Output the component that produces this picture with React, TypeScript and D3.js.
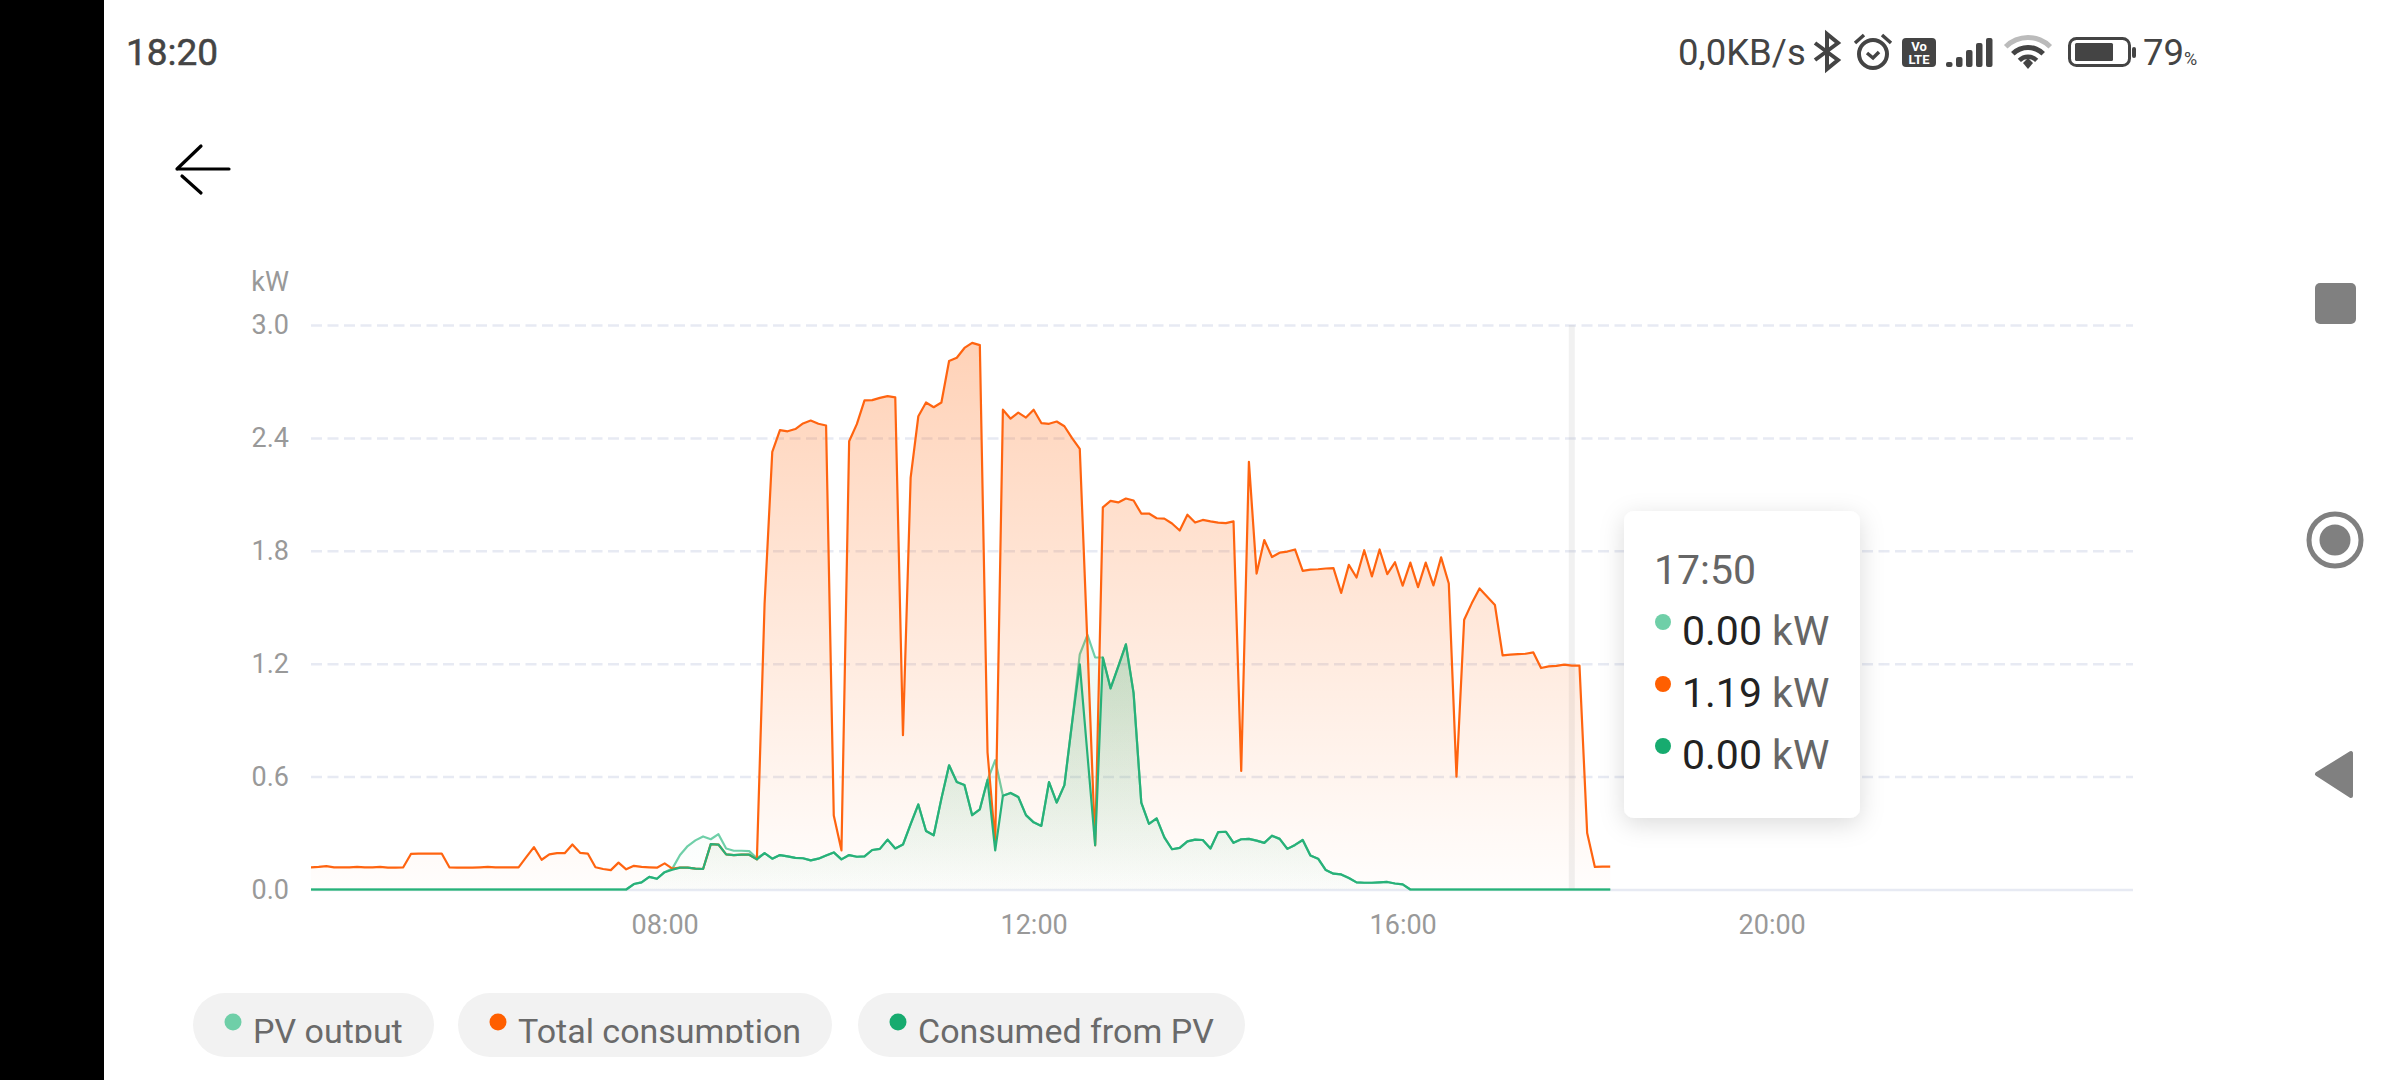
import { useEffect, useRef } from "react";
import * as d3 from "d3";

// one sample every 5 minutes, starting at 04:10
const startMinute = 250;
const stepMinutes = 5;

const totalConsumption = [
  0.118, 0.12, 0.124, 0.118, 0.118, 0.118, 0.12, 0.118, 0.118, 0.12, 0.116, 0.116, 0.118, 0.189, 0.191, 0.191, 0.191,
  0.191, 0.118, 0.116, 0.116, 0.116, 0.118, 0.12, 0.118, 0.118, 0.118, 0.118, 0.172, 0.225, 0.158, 0.187, 0.193, 0.193,
  0.239, 0.195, 0.191, 0.118, 0.109, 0.103, 0.143, 0.107, 0.126, 0.12, 0.118, 0.116, 0.139, 0.111, 0.116, 0.116, 0.111,
  0.109, 0.241, 0.239, 0.187, 0.183, 0.185, 0.185, 0.16, 1.517, 2.326, 2.441, 2.435, 2.447, 2.477, 2.492, 2.475, 2.466,
  0.393, 0.208, 2.382, 2.473, 2.599, 2.601, 2.613, 2.622, 2.615, 0.82, 2.189, 2.515, 2.588, 2.563, 2.588, 2.809, 2.826,
  2.878, 2.905, 2.893, 0.729, 0.25, 2.55, 2.502, 2.534, 2.508, 2.55, 2.479, 2.475, 2.487, 2.462, 2.399, 2.342, 1.3,
  0.235, 2.031, 2.065, 2.057, 2.078, 2.067, 1.998, 1.998, 1.973, 1.971, 1.945, 1.908, 1.992, 1.95, 1.964, 1.956, 1.95,
  1.947, 1.956, 0.63, 2.273, 1.679, 1.857, 1.767, 1.79, 1.796, 1.807, 1.693, 1.7, 1.702, 1.706, 1.708, 1.576, 1.725,
  1.658, 1.803, 1.664, 1.807, 1.676, 1.739, 1.615, 1.737, 1.607, 1.737, 1.616, 1.765, 1.626, 0.6, 1.434, 1.522, 1.6,
  1.556, 1.512, 1.244, 1.248, 1.251, 1.253, 1.26, 1.177, 1.186, 1.188, 1.195, 1.19, 1.19, 0.3, 0.12, 0.122, 0.122,
];

const consumedFromPv = [
  0, 0, 0, 0, 0, 0, 0, 0, 0, 0, 0, 0, 0, 0, 0, 0, 0, 0, 0, 0, 0, 0, 0, 0, 0, 0, 0, 0, 0, 0, 0, 0, 0, 0, 0, 0, 0, 0, 0, 0,
  0, 0, 0.029, 0.038, 0.067, 0.057, 0.092, 0.105, 0.116, 0.116, 0.111, 0.109, 0.241, 0.239, 0.187, 0.183, 0.185, 0.185,
  0.16, 0.193, 0.164, 0.183, 0.176, 0.168, 0.166, 0.155, 0.164, 0.181, 0.197, 0.16, 0.183, 0.174, 0.176, 0.21, 0.216,
  0.265, 0.218, 0.239, 0.347, 0.452, 0.311, 0.288, 0.483, 0.66, 0.571, 0.555, 0.395, 0.426, 0.582, 0.208, 0.498, 0.513,
  0.492, 0.395, 0.357, 0.338, 0.571, 0.462, 0.555, 0.887, 1.197, 0.716, 0.235, 1.233, 1.069, 1.185, 1.303, 1.044, 0.462,
  0.349, 0.378, 0.277, 0.214, 0.221, 0.256, 0.265, 0.263, 0.218, 0.305, 0.307, 0.248, 0.267, 0.269, 0.26, 0.248, 0.286,
  0.269, 0.216, 0.237, 0.263, 0.181, 0.164, 0.103, 0.084, 0.08, 0.061, 0.038, 0.036, 0.036, 0.038, 0.04, 0.032, 0.027,
  0, 0, 0, 0, 0, 0, 0, 0, 0, 0, 0, 0, 0, 0, 0, 0, 0, 0, 0, 0, 0, 0, 0, 0, 0, 0, 0,
];

const pvOutput = [
  0, 0, 0, 0, 0, 0, 0, 0, 0, 0, 0, 0, 0, 0, 0, 0, 0, 0, 0, 0, 0, 0, 0, 0, 0, 0, 0, 0, 0, 0, 0, 0, 0, 0, 0, 0, 0, 0, 0, 0,
  0, 0, 0.029, 0.038, 0.067, 0.057, 0.092, 0.111, 0.183, 0.231, 0.261, 0.282, 0.267, 0.294, 0.218, 0.206, 0.206, 0.204,
  0.166, 0.193, 0.164, 0.183, 0.176, 0.168, 0.166, 0.155, 0.164, 0.181, 0.197, 0.16, 0.183, 0.174, 0.176, 0.21, 0.216,
  0.265, 0.218, 0.239, 0.347, 0.452, 0.311, 0.288, 0.483, 0.66, 0.571, 0.555, 0.395, 0.426, 0.582, 0.687, 0.498, 0.513,
  0.492, 0.395, 0.357, 0.338, 0.571, 0.462, 0.555, 0.887, 1.25, 1.353, 1.233, 1.233, 1.069, 1.185, 1.303, 1.044, 0.462,
  0.349, 0.378, 0.277, 0.214, 0.221, 0.256, 0.265, 0.263, 0.218, 0.305, 0.307, 0.248, 0.267, 0.269, 0.26, 0.248, 0.286,
  0.269, 0.216, 0.237, 0.263, 0.181, 0.164, 0.103, 0.084, 0.08, 0.061, 0.038, 0.036, 0.036, 0.038, 0.04, 0.032, 0.027,
  0, 0, 0, 0, 0, 0, 0, 0, 0, 0, 0, 0, 0, 0, 0, 0, 0, 0, 0, 0, 0, 0, 0, 0, 0, 0, 0,
];

const yTicks = [0, 0.6, 1.2, 1.8, 2.4, 3.0];
const xTicks = [480, 720, 960, 1200];
const legendNames = ["PV output", "Total consumption", "Consumed from PV"];
const legendColors = ["#6fcfa8", "#ff5f00", "#17ab6f"];
const tooltipTime = "17:50";
const tooltipMinute = 1070;
const tooltipValues = ["0.00", "1.19", "0.00"];

const font = "Roboto, sans-serif";

const App = () => {
  const ref = useRef<SVGSVGElement | null>(null);

  useEffect(() => {
    if (!ref.current) return;
    document.body.style.margin = "0";

    const svg = d3.select(ref.current);
    svg.selectAll("*").remove();

    const x = d3.scaleLinear([startMinute, 1435], [311, 2133]);
    const y = d3.scaleLinear([0, 3], [889.5, 325]);
    const minuteOf = (i: number) => startMinute + i * stepMinutes;

    const defs = svg.append("defs");
    const series = [
      { values: pvOutput, color: legendColors[0], line: legendColors[0], id: "fillPv", top: 0.12 },
      { values: totalConsumption, color: legendColors[1], line: "#ff6410", id: "fillTotal", top: 0.28 },
      { values: consumedFromPv, color: legendColors[2], line: "#27b179", id: "fillConsumed", top: 0.2 },
    ];
    series.forEach((s) => {
      const grad = defs
        .append("linearGradient")
        .attr("id", s.id)
        .attr("gradientUnits", "userSpaceOnUse")
        .attr("x1", 0)
        .attr("x2", 0)
        .attr("y1", y(d3.max(s.values) as number))
        .attr("y2", y(0));
      grad.append("stop").attr("offset", 0).attr("stop-color", s.color).attr("stop-opacity", s.top);
      grad.append("stop").attr("offset", 1).attr("stop-color", s.color).attr("stop-opacity", 0.01);
    });
    defs
      .append("clipPath")
      .attr("id", "legendClip")
      .append("rect")
      .attr("x", 104)
      .attr("y", 985)
      .attr("width", 1300)
      .attr("height", 58);
    const shadow = defs
      .append("filter")
      .attr("id", "tipShadow")
      .attr("x", "-30%")
      .attr("y", "-30%")
      .attr("width", "160%")
      .attr("height", "160%");
    shadow
      .append("feDropShadow")
      .attr("dx", 0)
      .attr("dy", 6)
      .attr("stdDeviation", 12)
      .attr("flood-color", "#000")
      .attr("flood-opacity", 0.14);

    svg.append("rect").attr("width", 2400).attr("height", 1080).attr("fill", "#fff");
    svg.append("rect").attr("width", 104).attr("height", 1080).attr("fill", "#000");

    // y axis, its ticks stretched into the dashed grid
    const yAxis = svg
      .append("g")
      .attr("transform", "translate(311,0)")
      .call(
        d3
          .axisLeft(y)
          .tickValues(yTicks)
          .tickSize(-1822)
          .tickPadding(22)
          .tickFormat((d) => d3.format(".1f")(d as number))
      );
    yAxis.select(".domain").remove();
    yAxis
      .selectAll(".tick line")
      .attr("stroke", "#e7eaf3")
      .attr("stroke-width", 2.5)
      .attr("stroke-dasharray", (d) => (d === 0 ? null : "11 5.5"));
    yAxis.selectAll("text").attr("fill", "#999").attr("font-size", 27).attr("font-family", font);

    svg
      .append("text")
      .attr("x", 289)
      .attr("y", 291)
      .attr("text-anchor", "end")
      .attr("fill", "#999")
      .attr("font-size", 27)
      .attr("font-family", font)
      .text("kW");

    const xAxis = svg
      .append("g")
      .attr("transform", "translate(0,890)")
      .call(
        d3
          .axisBottom(x)
          .tickValues(xTicks)
          .tickSize(0)
          .tickPadding(25)
          .tickFormat((d) => d3.format("02d")(Math.floor((d as number) / 60)) + ":00")
      );
    xAxis.select(".domain").remove();
    xAxis.selectAll("text").attr("fill", "#999").attr("font-size", 27).attr("font-family", font);

    // hover band behind the lines
    svg
      .append("line")
      .attr("x1", x(tooltipMinute))
      .attr("x2", x(tooltipMinute))
      .attr("y1", y(3))
      .attr("y2", y(0))
      .attr("stroke", "#8c8c8c")
      .attr("stroke-opacity", 0.12)
      .attr("stroke-width", 6);

    const area = d3
      .area<number>()
      .x((_, i) => x(minuteOf(i)))
      .y0(y(0))
      .y1((d) => y(d));
    const line = d3
      .line<number>()
      .x((_, i) => x(minuteOf(i)))
      .y((d) => y(d));

    series.forEach((s) => {
      svg.append("path").attr("d", area(s.values)).attr("fill", `url(#${s.id})`);
      svg
        .append("path")
        .attr("d", line(s.values))
        .attr("fill", "none")
        .attr("stroke", s.line)
        .attr("stroke-width", 2.2)
        .attr("stroke-linejoin", "round");
    });

    // tooltip
    const tip = svg.append("g");
    tip
      .append("rect")
      .attr("x", 1624)
      .attr("y", 511)
      .attr("width", 236)
      .attr("height", 307)
      .attr("rx", 10)
      .attr("fill", "#fff")
      .attr("filter", "url(#tipShadow)");
    tip
      .append("text")
      .attr("x", 1654)
      .attr("y", 584)
      .attr("fill", "#666")
      .attr("font-size", 41)
      .attr("font-family", font)
      .text(tooltipTime);
    tooltipValues.forEach((v, i) => {
      const cy = 622 + i * 62;
      tip.append("circle").attr("cx", 1663).attr("cy", cy).attr("r", 8).attr("fill", legendColors[i]);
      const t = tip
        .append("text")
        .attr("x", 1682)
        .attr("y", cy + 23)
        .attr("font-size", 41)
        .attr("font-family", font);
      t.append("tspan").attr("fill", "#222").text(v);
      t.append("tspan").attr("fill", "#666").text(" kW");
    });

    // legend chips
    const chipX = [193, 458, 858];
    const chipW = [241, 374, 387];
    legendNames.forEach((name, i) => {
      svg
        .append("rect")
        .attr("x", chipX[i])
        .attr("y", 993)
        .attr("width", chipW[i])
        .attr("height", 64)
        .attr("rx", 32)
        .attr("fill", "#f2f2f2");
      svg
        .append("circle")
        .attr("cx", chipX[i] + 40)
        .attr("cy", 1022)
        .attr("r", 8.5)
        .attr("fill", legendColors[i]);
      svg
        .append("text")
        .attr("x", chipX[i] + 60)
        .attr("y", 1043)
        .attr("fill", "#6a6a6a")
        .attr("font-size", 34)
        .attr("font-family", font)
        .attr("clip-path", "url(#legendClip)")
        .text(name);
    });

    // status bar
    const dark = "#444";
    svg
      .append("text")
      .attr("x", 126)
      .attr("y", 65)
      .attr("fill", dark)
      .attr("font-size", 37)
      .attr("font-weight", 400)
      .attr("stroke", dark)
      .attr("stroke-width", 0.5)
      .attr("font-family", font)
      .text("18:20");
    svg
      .append("text")
      .attr("x", 1678)
      .attr("y", 65)
      .attr("fill", dark)
      .attr("font-size", 36.5)
      .attr("font-family", font)
      .text("0,0KB/s");
    svg
      .append("path")
      .attr("d", "M1815 43L1838 60L1827 69V34L1838 43L1815 60")
      .attr("fill", "none")
      .attr("stroke", dark)
      .attr("stroke-width", 4);
    svg
      .append("circle")
      .attr("cx", 1873)
      .attr("cy", 54)
      .attr("r", 14)
      .attr("fill", "none")
      .attr("stroke", dark)
      .attr("stroke-width", 4);
    svg
      .append("path")
      .attr("d", "M1867 53L1873 58L1879 52M1855 43L1864 35M1882 35L1891 43")
      .attr("fill", "none")
      .attr("stroke", dark)
      .attr("stroke-width", 3.5);
    svg.append("rect").attr("x", 1902).attr("y", 38).attr("width", 34).attr("height", 29).attr("rx", 4).attr("fill", dark);
    [
      ["Vo", 51],
      ["LTE", 64],
    ].forEach(([s, by]) => {
      svg
        .append("text")
        .attr("x", 1919)
        .attr("y", by as number)
        .attr("text-anchor", "middle")
        .attr("fill", "#fff")
        .attr("font-size", 13)
        .attr("font-weight", 700)
        .attr("font-family", font)
        .text(s as string);
    });
    [
      [1946, 62],
      [1956, 57],
      [1966, 50],
      [1976, 43],
      [1986, 38],
    ].forEach(([bx, by]) => {
      svg
        .append("rect")
        .attr("x", bx)
        .attr("y", by)
        .attr("width", 6.5)
        .attr("height", 67 - by)
        .attr("rx", 2)
        .attr("fill", dark);
    });
    const wifiArc = d3.arc();
    [
      [29, 34, "#bbb"],
      [19, 24, dark],
      [10, 14.5, dark],
    ].forEach(([r0, r1, c]) => {
      svg
        .append("path")
        .attr("transform", "translate(2028,69)")
        .attr(
          "d",
          wifiArc({
            innerRadius: r0 as number,
            outerRadius: r1 as number,
            startAngle: -Math.PI / 4,
            endAngle: Math.PI / 4,
          }) as string
        )
        .attr("fill", c as string);
    });
    svg.append("path").attr("d", "M2023 63L2028 58L2033 63L2028 69Z").attr("fill", dark);
    svg
      .append("rect")
      .attr("x", 2069.5)
      .attr("y", 38.5)
      .attr("width", 60)
      .attr("height", 27)
      .attr("rx", 7)
      .attr("fill", "none")
      .attr("stroke", dark)
      .attr("stroke-width", 3);
    svg.append("rect").attr("x", 2075).attr("y", 43).attr("width", 38).attr("height", 18).attr("rx", 1.5).attr("fill", dark);
    svg.append("rect").attr("x", 2132).attr("y", 47).attr("width", 4).attr("height", 11).attr("rx", 2).attr("fill", dark);
    const batt = svg
      .append("text")
      .attr("x", 2143)
      .attr("y", 65)
      .attr("fill", dark)
      .attr("font-size", 36.5)
      .attr("font-family", font);
    batt.append("tspan").text("79");
    batt.append("tspan").attr("font-size", 18).text("%");

    // back arrow
    svg
      .append("path")
      .attr("d", "M177 169H229M177 169L201 146M182 176L201 193")
      .attr("fill", "none")
      .attr("stroke", "#000")
      .attr("stroke-width", 3.2)
      .attr("stroke-linecap", "round");

    // navigation buttons
    const nav = "#808080";
    svg.append("rect").attr("x", 2315).attr("y", 283).attr("width", 41).attr("height", 41).attr("rx", 5).attr("fill", nav);
    svg
      .append("circle")
      .attr("cx", 2335)
      .attr("cy", 540)
      .attr("r", 26)
      .attr("fill", "none")
      .attr("stroke", nav)
      .attr("stroke-width", 5);
    svg.append("circle").attr("cx", 2335).attr("cy", 540).attr("r", 15.5).attr("fill", nav);
    svg
      .append("path")
      .attr("d", "M2317 774L2351 753V796Z")
      .attr("fill", nav)
      .attr("stroke", nav)
      .attr("stroke-width", 4)
      .attr("stroke-linejoin", "round");
  }, []);

  return <svg ref={ref} width={2400} height={1080} style={{ position: "absolute", left: 0, top: 0 }} />;
};

export default App;
